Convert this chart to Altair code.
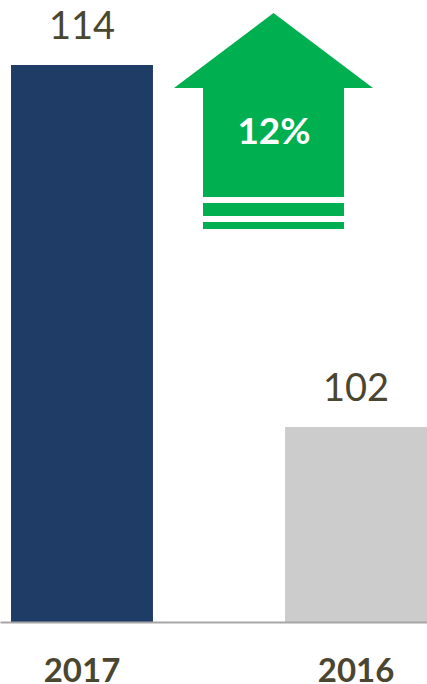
import altair as alt
import pandas as pd

# ---- data ----
years = ["2017", "2016"]
values = [114, 102]
bar_colors = ["#1F3C66", "#CCCCCC"]

# value-axis range (the original axis does not start at zero)
Y_MIN, Y_MAX = 95.54, 116.15

growth = round((values[0] - values[1]) / values[1] * 100)
pct_label = f"{growth}%"

TEXT_COLOR = "#4B4630"
GREEN = "#00B050"
FONT = "Lato"

df = pd.DataFrame({"year": years, "value": values})

x = alt.X(
    "year:N",
    sort=years,
    scale=alt.Scale(paddingInner=0.482, paddingOuter=0.0201, align=1),
    axis=alt.Axis(
        title=None, labelAngle=0, ticks=False, tickSize=0, grid=False,
        domain=True, domainColor="#A6A6A6", domainWidth=2, zindex=1,
        labelFont=FONT, labelFontWeight="bold", labelFontSize=33,
        labelColor=TEXT_COLOR, labelPadding=33,
    ),
)
y = alt.Y("value:Q", scale=alt.Scale(domain=[Y_MIN, Y_MAX], zero=False, nice=False), axis=None)

base = alt.Chart(df)

bars = base.mark_bar(clip=True).encode(
    x=x, y=y,
    color=alt.when(alt.datum.year == years[0])
    .then(alt.value(bar_colors[0]))
    .otherwise(alt.value(bar_colors[1])),
)

value_labels = base.mark_text(
    dy=-37, baseline="middle", align="center",
    font=FONT, fontSize=38, color=TEXT_COLOR,
).encode(x=x, y=y, text=alt.Text("value:Q"))

# up-arrow glyph with two stripes (unit path, [-1,1] spans the arrow head width)
ARROW_PATH = (
    "M0,-0.9246 L1,-0.1709 L0.7085,-0.1709 L0.7085,0.9246 L-0.7085,0.9246 "
    "L-0.7085,-0.1709 L-1,-0.1709 Z "
    "M-0.7085,0.985 L0.7085,0.985 L0.7085,1.1156 L-0.7085,1.1156 Z "
    "M-0.7085,1.1759 L0.7085,1.1759 L0.7085,1.2462 L-0.7085,1.2462 Z"
)

ann = alt.Chart(pd.DataFrame({"label": [pct_label]}))
arrow = ann.mark_point(
    shape=ARROW_PATH, size=199 ** 2, filled=True, color=GREEN,
    strokeWidth=0, opacity=1,
).encode(x=alt.value(273.5), y=alt.value(105))

arrow_text = ann.mark_text(
    font=FONT, fontWeight="bold", fontSize=37, color="white",
    align="center", baseline="middle",
).encode(x=alt.value(274), y=alt.value(133), text=alt.Text("label:N"))

chart = (
    alt.layer(bars, value_labels, arrow, arrow_text)
    .properties(width=427, height=622, padding=0)
    .configure_view(strokeWidth=0)
)

chart.save("out.html", embed_options={"renderer": "svg", "actions": False})
